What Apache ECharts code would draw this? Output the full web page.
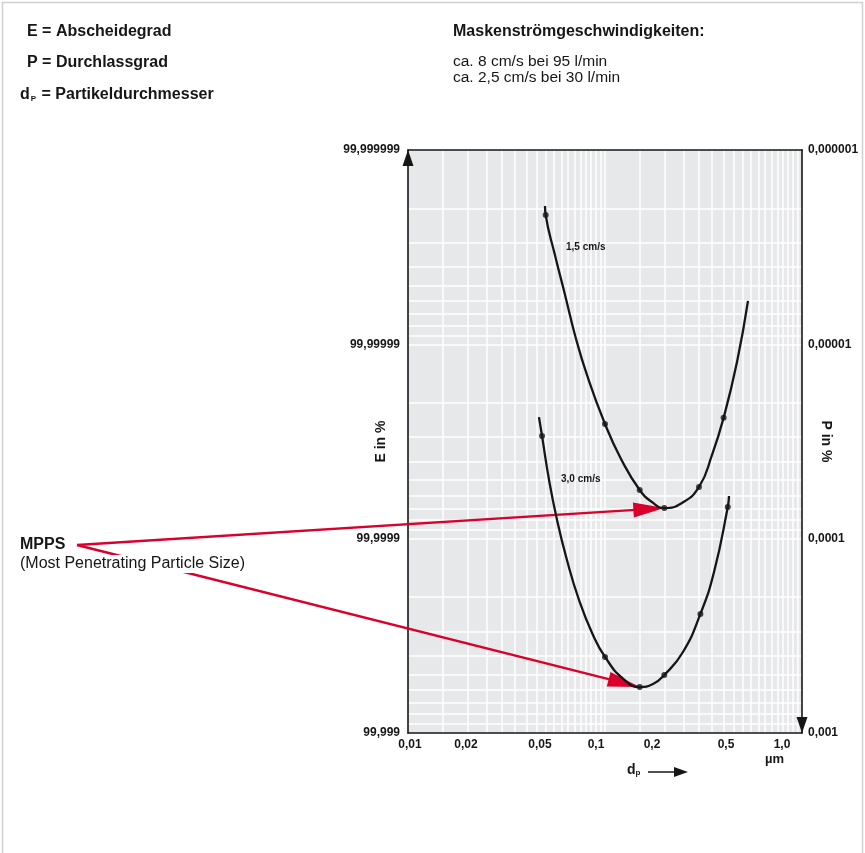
<!DOCTYPE html>
<html><head><meta charset="utf-8">
<script src="https://cdn.jsdelivr.net/npm/echarts@6/dist/echarts.min.js"></script>
<style>html,body{margin:0;padding:0;background:#fff}#c{width:865px;height:853px}</style>
</head><body><div id="c"></div>
<script>
// ---- tick labels ----
const xTickValues = [0.01, 0.02, 0.05, 0.1, 0.2, 0.5, 1.0];
const xTickLabels = ['0,01', '0,02', '0,05', '0,1', '0,2', '0,5', '1,0'];
const yTickValues = [0.000001, 0.00001, 0.0001, 0.001];
const yLabelsE = ['99,999999', '99,99999', '99,9999', '99,999'];
const yLabelsP = ['0,000001', '0,00001', '0,0001', '0,001'];
// ---- grid lines (values) ----
const xGridValues = [0.015, 0.02, 0.025, 0.03, 0.035, 0.04, 0.045, 0.05, 0.055, 0.06, 0.065, 0.07, 0.075, 0.08, 0.085, 0.09, 0.095, 0.1,
  0.15, 0.2, 0.25, 0.3, 0.35, 0.4, 0.45, 0.5, 0.55, 0.6, 0.65, 0.7, 0.75, 0.8, 0.85, 0.9, 0.95];
const yGridValues = [0.000002, 0.000003, 0.000004, 0.000005, 0.000006, 0.000007, 0.000008, 0.000009, 0.00001,
  0.00002, 0.00003, 0.00004, 0.00005, 0.00006, 0.00007, 0.00008, 0.00009, 0.0001,
  0.0002, 0.0003, 0.0004, 0.0005, 0.0006, 0.0007, 0.0008, 0.0009];
// ---- curve 1,5 cm/s (dp in µm, P in %) ----
const curve15Dp = [0.0496, 0.05, 0.0557, 0.0627, 0.0704, 0.081, 0.1, 0.1206, 0.15, 0.1732, 0.2, 0.2459, 0.3, 0.3493, 0.4, 0.4678, 0.532];
const curve15P  = [1.94e-6, 2.16e-6, 3.47e-6, 5.57e-6, 8.95e-6, 1.438e-5, 2.57e-5, 3.89e-5, 5.62e-5, 6.48e-5, 6.96e-5, 6.55e-5, 5.42e-5, 3.71e-5, 2.39e-5, 1.233e-5, 5.98e-6];
const dots15Dp = [0.05, 0.1, 0.15, 0.2, 0.3, 0.4];
const dots15P  = [2.16e-6, 2.57e-5, 5.62e-5, 6.96e-5, 5.42e-5, 2.39e-5];
// ---- curve 3,0 cm/s ----
const curve30Dp = [0.0462, 0.0479, 0.052, 0.0571, 0.0641, 0.0738, 0.0869, 0.1, 0.1234, 0.15, 0.1753, 0.2, 0.2488, 0.305, 0.3576, 0.42, 0.426];
const curve30P  = [2.37e-5, 2.96e-5, 4.99e-5, 8.02e-5, 1.288e-4, 2.068e-4, 3.13e-4, 4.06e-4, 5.25e-4, 5.8e-4, 5.6e-4, 5.03e-4, 3.83e-4, 2.44e-4, 1.485e-4, 6.87e-5, 6.03e-5];
const dots30Dp = [0.0479, 0.1, 0.15, 0.2, 0.305, 0.42];
const dots30P  = [2.96e-5, 4.06e-4, 5.8e-4, 5.03e-4, 2.44e-4, 6.87e-5];
// MPPS = minimum of each curve (index into dots arrays)
const mpps15Index = 3;
const mpps30Index = 2;

const L = Math.log10;
const FONT = '"Liberation Sans", Arial, Helvetica, sans-serif';
const INK = '#161616';
const RED = '#d9002c';
const pts = (xs, ys) => xs.map((x, i) => [L(x), L(ys[i])]);
const pick = (vals, labels) => v => { const i = vals.findIndex(t => Math.abs(L(t) - v) < 1e-6); return i >= 0 ? labels[i] : ''; };

const chart = echarts.init(document.getElementById('c'), null, { renderer: 'canvas' });
const axisLineStyle = { color: INK, width: 1.6 };
const option = {
  animation: false,
  backgroundColor: '#ffffff',
  grid: { left: 408, top: 150, width: 394, height: 583, show: true, backgroundColor: '#e7e8ea', borderWidth: 0, containLabel: false, outerBoundsMode: 'none' },
  xAxis: [
    { type: 'value', min: L(xTickValues[0]), max: L(xTickValues[xTickValues.length - 1]), position: 'bottom',
      axisLine: { show: true, onZero: false, lineStyle: axisLineStyle },
      axisTick: { show: false, customValues: xGridValues.map(L) },
      axisLabel: { show: false },
      splitLine: { show: true, customValues: xGridValues.map(L), lineStyle: { color: '#ffffff', width: 1.5 } } },
    { type: 'value', min: -2.0108, max: 0.1075, position: 'bottom',
      axisLine: { show: false, onZero: false }, axisTick: { show: false }, splitLine: { show: false },
      axisLabel: { show: true, customValues: xTickValues.map(L), formatter: pick(xTickValues, xTickLabels),
        fontFamily: FONT, fontWeight: 'bold', fontSize: 12, color: INK, margin: 6 } },
    { type: 'value', min: L(xTickValues[0]), max: L(xTickValues[xTickValues.length - 1]), position: 'top',
      axisLine: { show: true, onZero: false, lineStyle: axisLineStyle }, axisTick: { show: false }, axisLabel: { show: false }, splitLine: { show: false } }
  ],
  yAxis: [
    { type: 'value', min: L(yTickValues[0]), max: L(yTickValues[yTickValues.length - 1]), inverse: true, position: 'left',
      name: 'E in %', nameLocation: 'middle', nameGap: 20, nameMoveOverlap: false,
      nameTextStyle: { fontFamily: FONT, fontWeight: 'bold', fontSize: 14, color: INK },
      axisLine: { show: true, onZero: false, lineStyle: axisLineStyle, symbol: ['none', 'triangle'], symbolSize: [11, 16], symbolOffset: [0, -8] },
      axisTick: { show: false, customValues: yGridValues.map(L) },
      axisLabel: { show: true, customValues: yTickValues.map(L), formatter: pick(yTickValues, yLabelsE),
        fontFamily: FONT, fontWeight: 'bold', fontSize: 12, color: INK, margin: 8 },
      splitLine: { show: true, customValues: yGridValues.map(L), lineStyle: { color: '#ffffff', width: 1.5 } } },
    { type: 'value', min: L(yTickValues[0]), max: L(yTickValues[yTickValues.length - 1]), inverse: true, position: 'right',
      name: 'P in %', nameLocation: 'middle', nameGap: 17, nameRotate: -90, nameMoveOverlap: false,
      nameTextStyle: { fontFamily: FONT, fontWeight: 'bold', fontSize: 14, color: INK },
      axisLine: { show: true, onZero: false, lineStyle: axisLineStyle, symbol: ['triangle', 'none'], symbolSize: [11, 16], symbolOffset: [8, 0] },
      axisTick: { show: false },
      axisLabel: { show: true, customValues: yTickValues.map(L), formatter: pick(yTickValues, yLabelsP),
        fontFamily: FONT, fontWeight: 'bold', fontSize: 12, color: INK, margin: 6 },
      splitLine: { show: false } }
  ],
  series: [
    { type: 'line', name: '1,5 cm/s', xAxisIndex: 0, yAxisIndex: 0, data: pts(curve15Dp, curve15P), smooth: 0.5,
      symbol: 'none', showSymbol: false, lineStyle: { color: INK, width: 2.3 }, z: 3 },
    { type: 'scatter', xAxisIndex: 0, yAxisIndex: 0, data: pts(dots15Dp, dots15P), symbolSize: 6, itemStyle: { color: INK }, z: 4 },
    { type: 'line', name: '3,0 cm/s', xAxisIndex: 0, yAxisIndex: 0, data: pts(curve30Dp, curve30P), smooth: 0.5,
      symbol: 'none', showSymbol: false, lineStyle: { color: INK, width: 2.3 }, z: 3 },
    { type: 'scatter', xAxisIndex: 0, yAxisIndex: 0, data: pts(dots30Dp, dots30P), symbolSize: 6, itemStyle: { color: INK }, z: 4 }
  ]
};
chart.setOption(option);

function txt(x, y, text, size, bold, extra) {
  return Object.assign({ type: 'text', x: x, y: y, z: 5, silent: true,
    style: Object.assign({ text: text, fontFamily: FONT, fontSize: size, fontWeight: bold ? 'bold' : 'normal', fill: INK, verticalAlign: 'middle' }, extra || {}) });
}
function redArrow(from, tip, headLen, headHalf) {
  const dx = tip[0] - from[0], dy = tip[1] - from[1];
  const len = Math.sqrt(dx * dx + dy * dy);
  const ux = dx / len, uy = dy / len, nx = -uy, ny = ux;
  const bx = tip[0] - ux * headLen, by = tip[1] - uy * headLen;
  return [
    { type: 'polyline', z: 1, silent: true, shape: { points: [from, [bx + ux * 2, by + uy * 2]] }, style: { stroke: RED, lineWidth: 2.4, fill: null } },
    { type: 'polygon', z: 1, silent: true, shape: { points: [tip, [bx + nx * headHalf, by + ny * headHalf], [bx - nx * headHalf, by - ny * headHalf]] }, style: { fill: RED } }
  ];
}
const tip15 = chart.convertToPixel({ xAxisIndex: 0, yAxisIndex: 0 }, [L(dots15Dp[mpps15Index]), L(dots15P[mpps15Index])]);
const tip30 = chart.convertToPixel({ xAxisIndex: 0, yAxisIndex: 0 }, [L(dots30Dp[mpps30Index]), L(dots30P[mpps30Index])]);
const origin = [77, 545];

const graphics = [
  { type: 'rect', silent: true, z: 0, shape: { x: 2.5, y: 2.5, width: 860, height: 860 }, style: { fill: null, stroke: '#d0d0d0', lineWidth: 1.5 } },
  txt(27, 32, 'E = Abscheidegrad', 16, true),
  txt(27, 63, 'P = Durchlassgrad', 16, true),
  { type: 'text', x: 20, y: 94, z: 5, silent: true, style: { text: '{b|d}{s|P}{b| = Partikeldurchmesser}', verticalAlign: 'middle',
      rich: { b: { fontFamily: FONT, fontSize: 16, fontWeight: 'bold', fill: INK, lineHeight: 18, verticalAlign: 'bottom' },
              s: { fontFamily: FONT, fontSize: 8, fontWeight: 'bold', fill: INK, lineHeight: 18, verticalAlign: 'bottom', padding: [0, 1, 0, 1] } } } },
  txt(453, 32, 'Maskenströmgeschwindigkeiten:', 16, true),
  txt(453, 62, 'ca. 8 cm/s bei 95 l/min', 15.5, false),
  txt(453, 78, 'ca. 2,5 cm/s bei 30 l/min', 15.5, false),
  txt(566, 247, '1,5 cm/s', 10, true),
  txt(561, 479, '3,0 cm/s', 10, true),
  txt(765, 759, 'µm', 13, true),
  { type: 'text', x: 627, y: 768, z: 5, silent: true, style: { text: '{b|d}{s|p}', verticalAlign: 'middle',
      rich: { b: { fontFamily: FONT, fontSize: 14, fontWeight: 'bold', fill: INK, lineHeight: 18, verticalAlign: 'bottom' },
              s: { fontFamily: FONT, fontSize: 8, fontWeight: 'bold', fill: INK, lineHeight: 18, verticalAlign: 'bottom' } } } },
  { type: 'polyline', silent: true, z: 5, shape: { points: [[648, 772], [676, 772]] }, style: { stroke: INK, lineWidth: 1.5, fill: null } },
  { type: 'polygon', silent: true, z: 5, shape: { points: [[688, 772], [674, 767], [674, 777]] }, style: { fill: INK } },
  txt(20, 545, 'MPPS', 16, true),
  txt(20, 564, '(Most Penetrating Particle Size)', 16, false, { backgroundColor: '#ffffff', padding: [1, 0, 1, 0] })
].concat(redArrow(origin, tip15, 31, 7.5), redArrow(origin, tip30, 32, 7.5));

chart.setOption({ graphic: graphics });
</script>
</body></html>
